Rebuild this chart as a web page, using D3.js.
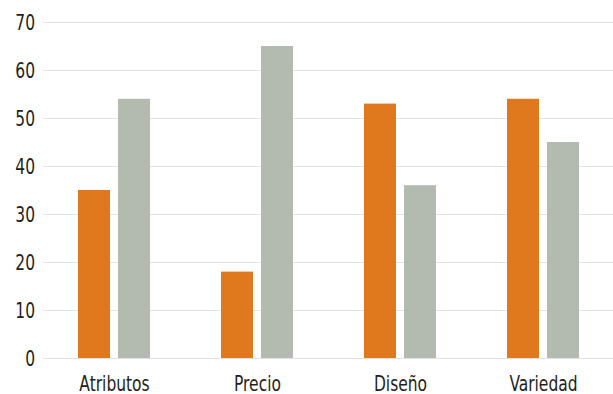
<!DOCTYPE html>
<html>
    <head>
        <meta charset="utf-8">
        <script type="text/javascript" src="https://d3js.org/d3.v7.min.js"></script>
        <style>
            body { margin: 0; background: #ffffff; overflow: hidden; }
            svg { display: block; }
            text { font-family: "DejaVu Sans Condensed", "Liberation Sans Narrow", sans-serif; fill: #231f20; }
        </style>
    </head>
    <body>
        <div id="my_chart"></div>
    </body>

    <script type="text/javascript">
        // Data
        var categories = ['Atributos', 'Precio', 'Diseño', 'Variedad'];
        var series_a = [35, 18, 53, 54];   // orange
        var series_b = [54, 65, 36, 45];   // gray
        var y_ticks = [0, 10, 20, 30, 40, 50, 60, 70];

        var svg_size = {width: 613, height: 394};
        var margin = {top: 22, right: 0, bottom: 36, left: 43};
        var height = svg_size.height - margin.top - margin.bottom;

        // the original font is a narrow one, so text is squeezed horizontally
        var squeeze = 0.82;

        var dataset = categories.map(function(c, i){
            return {name: c, a: series_a[i], b: series_b[i]};
        });

        var svg = d3.select('#my_chart')
                    .append('svg')
                    .attr('width', svg_size.width)
                    .attr('height', svg_size.height);

        var y_scale = d3.scaleLinear()
                        .domain([0, 70])
                        .range([margin.top + height, margin.top]);

        var x_scale = d3.scaleBand()
                        .domain(categories)
                        .range([42.5, 614.5])
                        .padding(0);

        // two bars inside each category band
        var sub_scale = d3.scaleBand()
                          .domain(['a', 'b'])
                          .range([35.5, 107.5])
                          .paddingInner(0.2)
                          .paddingOuter(0);

        var colors = {a: '#e0781e', b: '#b3bab0'};

        // gridlines
        svg.append('g')
           .selectAll('line')
           .data(y_ticks)
           .enter()
           .append('line')
           .attr('x1', margin.left)
           .attr('x2', svg_size.width)
           .attr('y1', d => Math.round(y_scale(d)) + 0.5)
           .attr('y2', d => Math.round(y_scale(d)) + 0.5)
           .attr('stroke', '#e3e3e3')
           .attr('stroke-width', 1);

        // y tick labels
        svg.append('g')
           .selectAll('text')
           .data(y_ticks)
           .enter()
           .append('text')
           .attr('transform', d => 'translate(35,' + y_scale(d) + ') scale(' + squeeze + ',1)')
           .attr('dy', '0.36em')
           .attr('text-anchor', 'end')
           .attr('font-size', '21px')
           .text(d => d);

        // bars
        var groups = svg.append('g')
                        .selectAll('g')
                        .data(dataset)
                        .enter()
                        .append('g')
                        .attr('transform', d => 'translate(' + x_scale(d.name) + ',0)');

        groups.selectAll('rect')
              .data(d => [{k: 'a', v: d.a}, {k: 'b', v: d.b}])
              .enter()
              .append('rect')
              .attr('x', d => sub_scale(d.k))
              .attr('width', sub_scale.bandwidth())
              .attr('y', d => y_scale(d.v))
              .attr('height', d => y_scale(0) - y_scale(d.v))
              .attr('fill', d => colors[d.k]);

        // category labels
        svg.append('g')
           .selectAll('text')
           .data(categories)
           .enter()
           .append('text')
           .attr('transform', d => 'translate(' + (x_scale(d) + 72) + ',391) scale(' + squeeze + ',1)')
           .attr('text-anchor', 'middle')
           .attr('font-size', '21px')
           .text(d => d);
    </script>
</html>
